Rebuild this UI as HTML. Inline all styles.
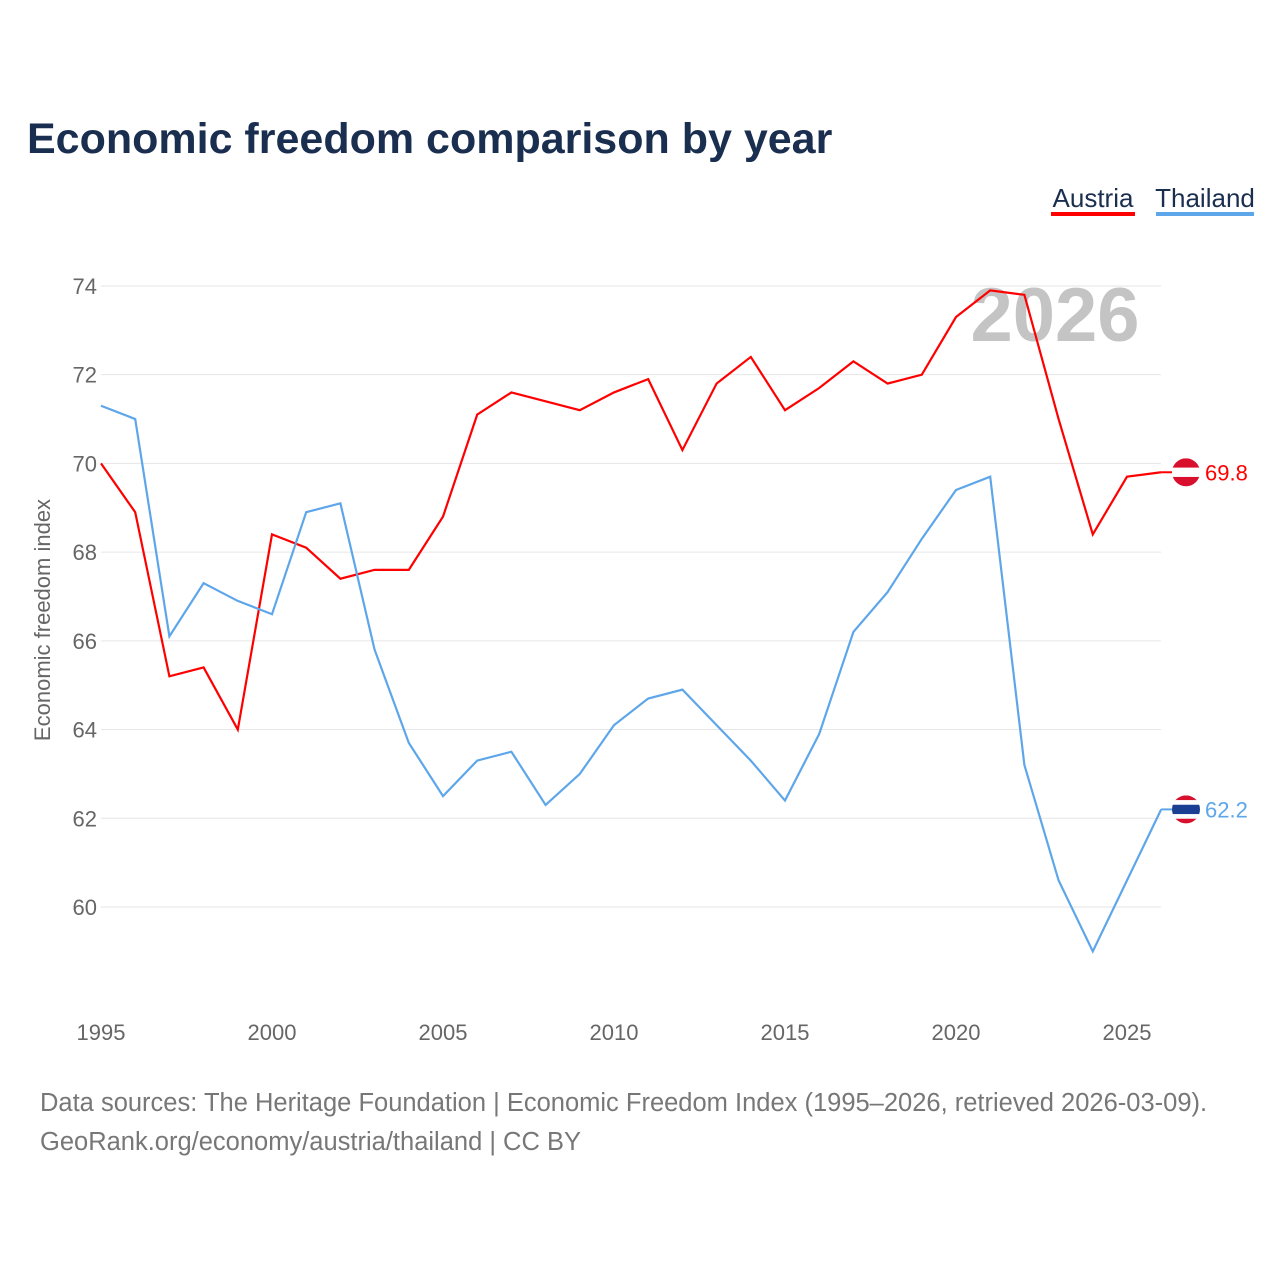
<!DOCTYPE html>
<html><head><meta charset="utf-8"><style>
body{margin:0;background:#fff;width:1280px;height:1280px;overflow:hidden;font-family:"Liberation Sans",sans-serif}
</style></head><body>
<svg width="1280" height="1280">
<text x="27" y="153" font-size="43" font-weight="bold" fill="#1a2e4f">Economic freedom comparison by year</text>
<g>
<text x="1093" y="207" font-size="26" fill="#1a2e4f" text-anchor="middle">Austria</text>
<rect x="1051" y="212" width="84" height="4" fill="#ff0000"/>
<text x="1205" y="207" font-size="26" fill="#1a2e4f" text-anchor="middle">Thailand</text>
<rect x="1156" y="212" width="98" height="4" fill="#5ea6ea"/>
</g>
<text x="1055" y="341" font-size="76" font-weight="bold" fill="#c4c4c4" text-anchor="middle">2026</text>
<text transform="translate(50,620) rotate(-90)" font-size="22" fill="#666" text-anchor="middle">Economic freedom index</text>
<g id="grid"></g><g id="lines"></g>
<text x="40" y="1111" font-size="25.5" fill="#777">Data sources: The Heritage Foundation | Economic Freedom Index (1995–2026, retrieved 2026-03-09).</text>
<text x="40" y="1150" font-size="25.5" fill="#777">GeoRank.org/economy/austria/thailand | CC BY</text>
</svg>
<script>
const years=[1995,1996,1997,1998,1999,2000,2001,2002,2003,2004,2005,2006,2007,2008,2009,2010,2011,2012,2013,2014,2015,2016,2017,2018,2019,2020,2021,2022,2023,2024,2025,2026];
const austria=[70.0,68.9,65.2,65.4,64.0,68.4,68.1,67.4,67.6,67.6,68.8,71.1,71.6,71.4,71.2,71.6,71.9,70.3,71.8,72.4,71.2,71.7,72.3,71.8,72.0,73.3,73.9,73.8,71.0,68.4,69.7,69.8];
const thailand=[71.3,71.0,66.1,67.3,66.9,66.6,68.9,69.1,65.8,63.7,62.5,63.3,63.5,62.3,63.0,64.1,64.7,64.9,64.1,63.3,62.4,63.9,66.2,67.1,68.3,69.4,69.7,63.2,60.6,59.0,60.6,62.2];
const yTicks=[60,62,64,66,68,70,72,74];
const xTicks=[1995,2000,2005,2010,2015,2020,2025];
const X=y=>101+(y-1995)*34.2;
const Y=v=>907-(v-60)*44.36;
const NS="http://www.w3.org/2000/svg";
function mk(t,a,p){const e=document.createElementNS(NS,t);for(const k in a)e.setAttribute(k,a[k]);p.appendChild(e);return e;}
const g=document.getElementById('grid');
yTicks.forEach(v=>{
 const l=mk('line',{x1:101,x2:1161,y1:Y(v),y2:Y(v),stroke:'#e6e6e6','stroke-width':1},g);
 
 
 const t=mk('text',{x:97,y:Y(v)+8,'font-size':22,fill:'#666','text-anchor':'end'},g);t.textContent=v;
 
 
});
xTicks.forEach(v=>{
 const t=mk('text',{x:X(v),y:1040,'font-size':22,fill:'#666','text-anchor':'middle'},g);t.textContent=v;
 
 
});
const L=document.getElementById('lines');
function series(d,c,name,flag){
 const p=mk('polyline',{points:d.map((v,i)=>X(years[i])+','+Y(v)).join(' '),fill:'none',stroke:c,'stroke-width':2.2},L);
 
 
 const lv=d[d.length-1],cx=1186,cy=Y(lv);
 const fg=mk('g',{},L);
 
 
 mk('line',{x1:X(2026),x2:cx-14,y1:cy,y2:cy,stroke:c,'stroke-width':2},fg);
 const cp=mk('clipPath',{id:'cp'+name},fg);mk('circle',{cx:cx,cy:cy,r:14},cp);
 const fr=mk('g',{'clip-path':'url(#cp'+name+')'},fg);
 flag.forEach(([h,col],i,a)=>{const y0=a.slice(0,i).reduce((s,q)=>s+q[0],0);mk('rect',{x:cx-14,y:cy-14+y0*28,width:28,height:h*28+0.5,fill:col},fr);});
 const t=mk('text',{x:1205,y:cy+8,'font-size':22,fill:c},L);t.textContent=lv.toFixed(1);
 
 
}
series(austria,'#ff0000','austria',[[1/3,'#d8102e'],[1/3,'#ffffff'],[1/3,'#d8102e']]);
series(thailand,'#5ea6ea','thailand',[[1/6,'#d8102e'],[1/6,'#ffffff'],[1/3,'#1a3f93'],[1/6,'#ffffff'],[1/6,'#d8102e']]);
</script>
</body></html>
